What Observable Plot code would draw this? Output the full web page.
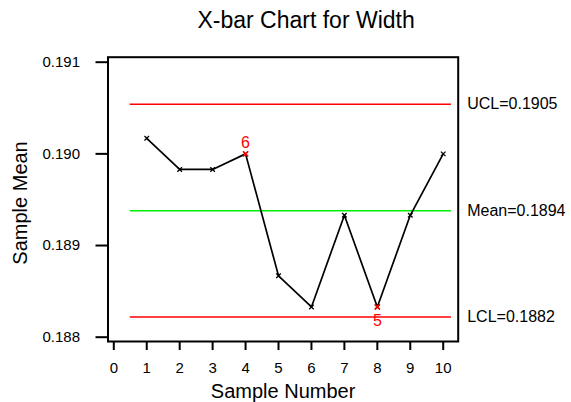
<!DOCTYPE html>
<html>
<head>
<meta charset="utf-8">
<script src="https://cdn.jsdelivr.net/npm/d3@7"></script>
<script src="https://cdn.jsdelivr.net/npm/@observablehq/plot@0.6"></script>
<style>
  html, body { margin: 0; padding: 0; background: #fff; }
  #chart svg { display: block; }
</style>
</head>
<body>
<div id="chart"></div>
<script>
// Subgroup means of the width measurements, one per sample
const samples = [1, 2, 3, 4, 5, 6, 7, 8, 9, 10];
const means = [0.19017, 0.18983, 0.18983, 0.19000, 0.18867, 0.18833, 0.18933, 0.18833, 0.18933, 0.19000];

// Control limits and centre line
const limitNames = ["UCL", "Mean", "LCL"];
const limitValues = [0.19054, 0.18938, 0.18822];
const limitColors = ["#ff0000", "#00ee00", "#ff0000"];

// Samples that break a run rule, with the rule number shown beside them
const flaggedSamples = [4, 8];
const flaggedRules = ["6", "5"];
const flaggedSides = ["above", "below"];

// Axis ticks
const xTicks = [0, 1, 2, 3, 4, 5, 6, 7, 8, 9, 10];
const yTicks = [0.188, 0.189, 0.190, 0.191];

const points = samples.map((s, i) => ({sample: s, mean: means[i]}));
const limits = limitNames.map((name, i) => ({name, value: limitValues[i], color: limitColors[i]}));
const flags = flaggedSamples.map((s, i) => ({
  sample: s,
  mean: means[samples.indexOf(s)],
  rule: flaggedRules[i],
  side: flaggedSides[i]
}));

const fmt3 = d3.format(".3f");
const fmt4 = d3.format(".4f");
const blank = () => "";

const chart = Plot.plot({
  width: 571,
  height: 402,
  marginLeft: 107.5,
  marginRight: 113.3,
  marginTop: 56.7,
  marginBottom: 61,
  style: {
    fontFamily: "'Liberation Sans', Arial, Helvetica, sans-serif",
    fontSize: "15px",
    background: "#fff",
    color: "#000",
    overflow: "visible"
  },
  x: {domain: [-0.176, 10.455]},
  y: {domain: [0.187953, 0.1910545]},
  marks: [
    // tick marks outside the frame
    Plot.axisX({ticks: xTicks, tickSize: 9, tickFormat: blank, strokeWidth: 2, label: null}),
    Plot.axisY({ticks: yTicks, tickSize: 12, tickFormat: blank, strokeWidth: 2, label: null}),
    // tick labels
    Plot.text(xTicks, {x: d => d, text: d => String(d), frameAnchor: "bottom", textAnchor: "middle", lineAnchor: "middle", dy: 27, fontSize: 15, fill: "#000"}),
    Plot.text(yTicks, {y: d => d, text: d => fmt3(d), frameAnchor: "left", textAnchor: "end", lineAnchor: "middle", dx: -28, fontSize: 15, fill: "#000"}),
    Plot.frame({stroke: "#000", strokeWidth: 2}),
    // control limits and centre line
    Plot.ruleY(limits, {y: "value", x1: 0.5, x2: 10.25, stroke: "color", strokeWidth: 1.5}),
    Plot.text(limits, {
      y: "value",
      text: d => `${d.name}=${fmt4(d.value)}`,
      frameAnchor: "right",
      textAnchor: "start",
      lineAnchor: "middle",
      dx: 9,
      fontSize: 16,
      fill: "#000"
    }),
    // sample means
    Plot.line(points, {x: "sample", y: "mean", stroke: "#000", strokeWidth: 1.7}),
    Plot.dot(points, {x: "sample", y: "mean", symbol: "times", r: 2.2, stroke: "#000", strokeWidth: 1.3}),
    Plot.dot(flags, {x: "sample", y: "mean", symbol: "times", r: 2.5, stroke: "#ff0000", strokeWidth: 1.5}),
    Plot.text(flags.filter(d => d.side === "above"), {x: "sample", y: "mean", text: "rule", dy: -10.5, fontSize: 16, fill: "#ff0000"}),
    Plot.text(flags.filter(d => d.side === "below"), {x: "sample", y: "mean", text: "rule", dy: 14, fontSize: 16, fill: "#ff0000"}),
    // titles
    Plot.text(["X-bar Chart for Width"], {frameAnchor: "top", textAnchor: "middle", lineAnchor: "middle", text: d => d, dx: 23, dy: -37, fontSize: 23, fill: "#000"}),
    Plot.text(["Sample Number"], {frameAnchor: "bottom", textAnchor: "middle", lineAnchor: "middle", text: d => d, dy: 49.6, fontSize: 20, fill: "#000"}),
    Plot.text(["Sample Mean"], {frameAnchor: "left", textAnchor: "middle", lineAnchor: "middle", text: d => d, rotate: -90, dx: -87, dy: 3.6, fontSize: 20, fill: "#000"})
  ]
});

document.getElementById("chart").appendChild(chart);
</script>
</body>
</html>
